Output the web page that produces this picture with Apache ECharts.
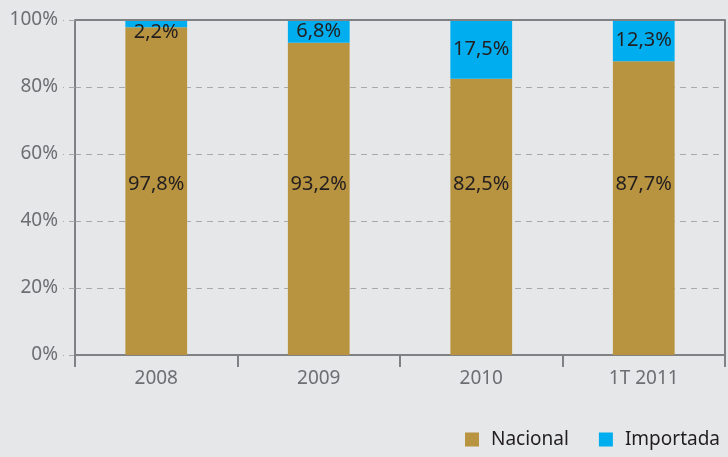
<!DOCTYPE html>
<html>
<head>
<meta charset="utf-8">
<script src="https://cdn.jsdelivr.net/npm/echarts@6/dist/echarts.min.js"></script>
<style>
  html, body { margin: 0; padding: 0; background: #e6e7e9; }
  #chart { width: 728px; height: 457px; }
</style>
</head>
<body>
<div id="chart"></div>
<script>
const categories = ['2008', '2009', '2010', '1T 2011']
const nacional = [97.8, 93.2, 82.5, 87.7]
const importada = [2.2, 6.8, 17.5, 12.3]
const yTicks = [0, 20, 40, 60, 80, 100]

const fmt = v => String(v.toFixed(1)).replace('.', ',') + '%'
const font = 'Noto Sans'

const chart = echarts.init(document.getElementById('chart'))
chart.setOption({
  backgroundColor: '#e6e7e9',
  animation: false,
  textStyle: { fontFamily: font },
  grid: { left: 75, right: 3, top: 20, bottom: 102 },
  legend: {
    right: 3,
    bottom: 3,
    itemWidth: 14,
    itemHeight: 14,
    itemGap: 30,
    icon: 'rect',
    textStyle: { color: '#231f20', fontSize: 19, fontFamily: font, padding: [0, 0, 0, 7] },
    data: ['Nacional', 'Importada']
  },
  xAxis: {
    type: 'category',
    data: categories,
    axisLine: { lineStyle: { color: '#808184', width: 2 } },
    axisTick: { show: true, length: 12, lineStyle: { color: '#808184', width: 2 } },
    axisLabel: { color: '#6d6e71', fontSize: 19, margin: 14 }
  },
  yAxis: [{
    type: 'value',
    min: yTicks[0],
    max: yTicks[yTicks.length - 1],
    interval: 20,
    axisLine: { show: true, lineStyle: { color: '#808184', width: 2 } },
    axisTick: { show: true, length: 12, lineStyle: { color: '#a7a9ac', type: [6, 5] } },
    axisLabel: { color: '#6d6e71', fontSize: 19, margin: 17, formatter: '{value}%' },
    splitLine: {
      showMinLine: false,
      showMaxLine: false,
      lineStyle: { color: '#a7a9ac', type: [6, 5] }
    }
  }, {
    type: 'value',
    position: 'right',
    min: 0,
    max: 100,
    axisLine: { show: true, onZero: false, lineStyle: { color: '#808184', width: 2 } },
    axisTick: { show: false },
    axisLabel: { show: false },
    splitLine: { show: false }
  }],
  series: [
    {
      name: 'Nacional',
      type: 'bar',
      stack: 'total',
      barWidth: '38%',
      itemStyle: { color: '#b89440' },
      label: {
        show: true,
        position: 'insideBottom',
        distance: 161,
        color: '#231f20',
        fontSize: 20,
        formatter: p => fmt(p.value)
      },
      data: nacional
    },
    {
      name: 'Importada',
      type: 'bar',
      stack: 'total',
      itemStyle: { color: '#00aeef' },
      label: {
        show: true,
        position: 'inside',
        color: '#231f20',
        fontSize: 20,
        formatter: p => fmt(p.value)
      },
      // linha cheia no topo (100%)
      markLine: {
        silent: true,
        symbol: 'none',
        label: { show: false },
        lineStyle: { color: '#808184', width: 2, type: 'solid' },
        data: [{ yAxis: yTicks[yTicks.length - 1] }]
      },
      data: importada.map((v, i) => i === 0
        ? { value: v, label: { position: 'insideTop', distance: 2 } }
        : v)
    }
  ]
})
</script>
</body>
</html>
